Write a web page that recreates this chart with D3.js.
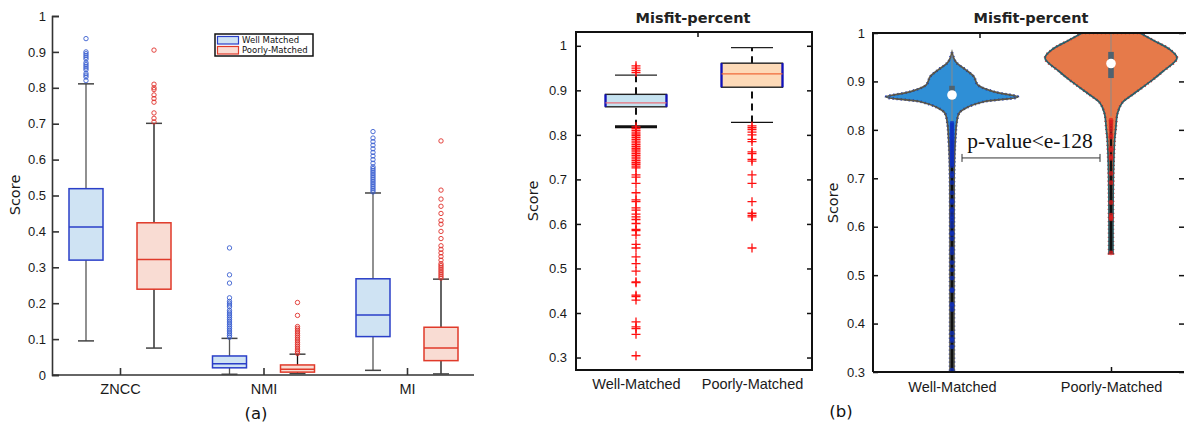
<!doctype html>
<html lang="en">
  <head>
    <meta charset="UTF-8" />
    <title>Score distributions</title>
    <script src="https://d3js.org/d3.v7.min.js"></script>
    <style>
      body { margin: 0; background: #fff; }
      svg { display: block; font-family: 'DejaVu Sans', sans-serif; }
      .tick-label { font-size: 13px; fill: #1a1a1a; }
      .cat-label { font-size: 14.5px; fill: #1a1a1a; }
      .title { font-size: 14.5px; font-weight: bold; fill: #222; }
      .ylab { font-size: 14.5px; fill: #1a1a1a; }
      .legend-item { font-size: 8.5px; fill: #111; }
    </style>
  </head>
  <body>
    <div id="chart"></div>
    <script>
      // ---------- panel (a) data ----------
      const aCategories = ['ZNCC', 'NMI', 'MI']
      const aGroups = ['Well Matched', 'Poorly-Matched']
      const aTicks = [0, 0.1, 0.2, 0.3, 0.4, 0.5, 0.6, 0.7, 0.8, 0.9, 1]
      const aTickLabels = ['0', '0.1', '0.2', '0.3', '0.4', '0.5', '0.6', '0.7', '0.8', '0.9', '1']
      // [lower whisker, q1, median, q3, upper whisker]
      const aWellStats = [
        [0.095, 0.32, 0.412, 0.519, 0.811],
        [0.002, 0.02, 0.031, 0.053, 0.102],
        [0.013, 0.107, 0.167, 0.268, 0.507],
      ]
      const aPoorStats = [
        [0.075, 0.239, 0.322, 0.424, 0.701],
        [0.004, 0.008, 0.016, 0.028, 0.058],
        [0.003, 0.04, 0.075, 0.133, 0.267],
      ]
      const aWellOutliers = [
        [0.82, 0.83, 0.835, 0.84, 0.85, 0.855, 0.86, 0.865, 0.87, 0.88, 0.885, 0.89, 0.895, 0.9, 0.937],
        [0.105, 0.11, 0.115, 0.12, 0.125, 0.13, 0.135, 0.14, 0.145, 0.15, 0.155, 0.16, 0.165, 0.17, 0.175, 0.18, 0.19, 0.195, 0.2, 0.205, 0.215, 0.256, 0.279, 0.354],
        [0.51, 0.515, 0.52, 0.525, 0.53, 0.535, 0.54, 0.545, 0.55, 0.555, 0.56, 0.565, 0.57, 0.575, 0.58, 0.59, 0.6, 0.61, 0.62, 0.63, 0.64, 0.65, 0.66, 0.678],
      ]
      const aPoorOutliers = [
        [0.705, 0.715, 0.73, 0.76, 0.77, 0.78, 0.795, 0.8, 0.81, 0.905],
        [0.06, 0.065, 0.07, 0.075, 0.08, 0.085, 0.09, 0.095, 0.1, 0.105, 0.11, 0.115, 0.12, 0.125, 0.13, 0.135, 0.166, 0.202],
        [0.27, 0.275, 0.28, 0.285, 0.29, 0.295, 0.3, 0.305, 0.31, 0.32, 0.33, 0.34, 0.35, 0.36, 0.38, 0.4, 0.42, 0.43, 0.45, 0.47, 0.49, 0.515, 0.652],
      ]

      // ---------- panel (b) data ----------
      const bCategories = ['Well-Matched', 'Poorly-Matched']
      const bTicks = [0.3, 0.4, 0.5, 0.6, 0.7, 0.8, 0.9, 1]
      const bTickLabels = ['0.3', '0.4', '0.5', '0.6', '0.7', '0.8', '0.9', '1']
      const bStats = [
        [0.818, 0.863, 0.872, 0.891, 0.934],
        [0.828, 0.907, 0.937, 0.961, 0.996],
      ]
      const bOutliers = [
        [0.955, 0.95, 0.945, 0.94, 0.818, 0.814, 0.81, 0.806, 0.802, 0.798, 0.794, 0.79, 0.786, 0.782, 0.778, 0.774, 0.77, 0.766, 0.762, 0.758, 0.754, 0.75, 0.746, 0.742, 0.738, 0.734, 0.73, 0.726, 0.71, 0.705, 0.691, 0.67, 0.654, 0.65, 0.636, 0.631, 0.622, 0.616, 0.61, 0.601, 0.588, 0.585, 0.575, 0.554, 0.546, 0.526, 0.511, 0.494, 0.47, 0.468, 0.44, 0.437, 0.429, 0.38, 0.369, 0.365, 0.352, 0.304],
        [0.82, 0.816, 0.812, 0.806, 0.8, 0.79, 0.785, 0.762, 0.758, 0.745, 0.741, 0.71, 0.691, 0.65, 0.624, 0.619, 0.616, 0.546],
      ]
      const vTicks = [0.3, 0.4, 0.5, 0.6, 0.7, 0.8, 0.9, 1]
      const vTickLabels = ['0.3', '0.4', '0.5', '0.6', '0.7', '0.8', '0.9', '1']
      // [score, relative density]
      const vWellDensity = [
        [0.96, 0.0], [0.94, 0.06], [0.924, 0.21], [0.91, 0.33], [0.893, 0.39],
        [0.879, 0.63], [0.868, 1.0], [0.858, 0.48], [0.847, 0.24], [0.835, 0.11],
        [0.814, 0.07], [0.79, 0.055], [0.75, 0.04], [0.7, 0.032], [0.5, 0.03], [0.3, 0.03],
      ]
      const vPoorDensity = [
        [1.0, 0.44], [0.985, 0.64], [0.965, 0.9], [0.948, 1.0], [0.92, 0.78], [0.9, 0.6],
        [0.872, 0.32], [0.856, 0.17], [0.835, 0.1], [0.8, 0.07], [0.78, 0.055],
        [0.75, 0.045], [0.7, 0.035], [0.6, 0.03], [0.545, 0.03],
      ]
      const vTail = [[0.3, 0.78], [0.545, 0.82]]
      const pValueText = 'p-value<e-128'

      const W = 1186, H = 426
      const svg = d3.select('#chart').append('svg').attr('width', W).attr('height', H)

      // ================= panel (a) =================
      const ya = d3.scaleLinear().domain([0, 1]).range([375, 16])
      const xa = d3.scalePoint().domain(aCategories).range([120, 407])
      const off = d3.scalePoint().domain(aGroups).range([-34, 34])
      const boxW = 34
      const ga = svg.append('g')

      ga.append('g')
        .attr('transform', 'translate(52,0)')
        .call(d3.axisLeft(ya).tickValues(aTicks).tickFormat((d, i) => aTickLabels[i]).tickSize(-7).tickPadding(6))
        .call((g) => g.selectAll('.tick text').attr('class', 'tick-label').attr('font-size', null).attr('font-family', null))
        .call((g) => g.selectAll('path, line').attr('stroke', '#333').attr('stroke-width', 1.6))
      ga.append('g')
        .attr('transform', 'translate(0,375)')
        .call(d3.axisBottom(xa).tickSize(-7).tickPadding(9).tickSizeOuter(0))
        .call((g) => g.select('.domain').attr('d', 'M52,0H474'))
        .call((g) => g.selectAll('.tick text').attr('class', 'cat-label').attr('font-size', null).attr('font-family', null))
        .call((g) => g.selectAll('path, line').attr('stroke', '#333').attr('stroke-width', 1.6))

      const aStyles = [
        { fill: '#cfe3f3', stroke: '#2a3fc8', whisker: '#555', out: '#3a5fd0' },
        { fill: '#f9dcd3', stroke: '#e03a2a', whisker: '#111', out: '#e0302a' },
      ]
      function drawBoxA(cat, gi, s, outs) {
        const st = aStyles[gi]
        const cx = xa(cat) + off(aGroups[gi])
        const g = ga.append('g')
        g.append('line').attr('x1', cx).attr('x2', cx).attr('y1', ya(s[0])).attr('y2', ya(s[4]))
          .attr('stroke', st.whisker).attr('stroke-width', 1.3)
        ;[s[0], s[4]].forEach((v) => {
          g.append('line').attr('x1', cx - 8).attr('x2', cx + 8).attr('y1', ya(v)).attr('y2', ya(v))
            .attr('stroke', '#444').attr('stroke-width', 1.5)
        })
        g.append('rect').attr('x', cx - boxW / 2).attr('width', boxW)
          .attr('y', ya(s[3])).attr('height', ya(s[1]) - ya(s[3]))
          .attr('fill', st.fill).attr('stroke', st.stroke).attr('stroke-width', 1.5)
        g.append('line').attr('x1', cx - boxW / 2).attr('x2', cx + boxW / 2)
          .attr('y1', ya(s[2])).attr('y2', ya(s[2])).attr('stroke', st.stroke).attr('stroke-width', 1.5)
        g.selectAll('circle').data(outs).join('circle')
          .attr('cx', cx).attr('cy', (d) => ya(d)).attr('r', 2.2)
          .attr('fill', 'none').attr('stroke', st.out).attr('stroke-width', 0.9)
      }
      aCategories.forEach((c, i) => {
        drawBoxA(c, 0, aWellStats[i], aWellOutliers[i])
        drawBoxA(c, 1, aPoorStats[i], aPoorOutliers[i])
      })

      ga.append('text').attr('class', 'ylab').attr('transform', 'translate(20,195) rotate(-90)')
        .attr('text-anchor', 'middle').text('Score')
      ga.append('text').attr('x', 256).attr('y', 419).attr('text-anchor', 'middle')
        .attr('font-size', 16.5).attr('fill', '#111').text('(a)')

      // legend
      const lg = ga.append('g').attr('transform', 'translate(215,34)')
      lg.append('rect').attr('width', 98).attr('height', 22).attr('fill', '#fff')
        .attr('stroke', '#111').attr('stroke-width', 1.5)
      aGroups.forEach((name, i) => {
        lg.append('rect').attr('x', 2.5).attr('y', 2.5 + i * 10).attr('width', 21).attr('height', 7.5)
          .attr('fill', aStyles[i].fill).attr('stroke', aStyles[i].stroke).attr('stroke-width', 1.2)
        lg.append('text').attr('class', 'legend-item').attr('x', 27).attr('y', 6.5 + i * 10)
          .attr('dy', '0.35em').text(name)
      })

      // ================= panel (b) boxplot =================
      const yb = d3.scaleLinear().domain([0.272, 1.031]).range([370, 32])
      const xb = d3.scalePoint().domain(bCategories).range([636, 752])
      const gb = svg.append('g')
      const bL = 576, bR = 812, bT = 32, bB = 370

      gb.append('g').attr('transform', `translate(${bL},0)`)
        .call(d3.axisLeft(yb).tickValues(bTicks).tickFormat((d, i) => bTickLabels[i]).tickSize(-5).tickPadding(9).tickSizeOuter(0))
        .call((g) => g.select('.domain').remove())
        .call((g) => g.selectAll('.tick text').attr('class', 'tick-label').attr('font-size', null).attr('font-family', null))
        .call((g) => g.selectAll('line').attr('stroke', '#111').attr('stroke-width', 1.5))
      gb.append('g').attr('transform', `translate(${bR},0)`)
        .call(d3.axisRight(yb).tickValues(bTicks).tickFormat('').tickSize(-5).tickSizeOuter(0))
        .call((g) => g.select('.domain').remove())
        .call((g) => g.selectAll('line').attr('stroke', '#111').attr('stroke-width', 1.5))
      gb.append('g').attr('transform', `translate(0,${bB})`)
        .call(d3.axisBottom(xb).tickSize(0).tickPadding(9))
        .call((g) => g.select('.domain').remove())
        .call((g) => g.selectAll('.tick text').attr('class', 'cat-label').attr('font-size', 16.5).attr('font-family', null))
      gb.append('line').attr('x1', (bL + bR) / 2 + 4).attr('x2', (bL + bR) / 2 + 4)
        .attr('y1', bT).attr('y2', bT + 5).attr('stroke', '#111').attr('stroke-width', 1.5)
      gb.append('rect').attr('x', bL).attr('y', bT).attr('width', bR - bL).attr('height', bB - bT)
        .attr('fill', 'none').attr('stroke', '#111').attr('stroke-width', 2)

      const bStyles = [
        { fill: '#c6e3f1', med: '#e8707a', capLo: 3 },
        { fill: '#fddab8', med: '#f06a3a', capLo: 1.2 },
      ]
      const bBoxW = 61
      bCategories.forEach((c, i) => {
        const s = bStats[i], st = bStyles[i], cx = xb(c)
        const g = gb.append('g')
        g.append('line').attr('x1', cx).attr('x2', cx).attr('y1', yb(s[0])).attr('y2', yb(s[1]))
          .attr('stroke', '#111').attr('stroke-width', 2).attr('stroke-dasharray', '7,5')
        g.append('line').attr('x1', cx).attr('x2', cx).attr('y1', yb(s[3])).attr('y2', yb(s[4]))
          .attr('stroke', '#111').attr('stroke-width', 2).attr('stroke-dasharray', '7,5')
        g.append('line').attr('x1', cx - 21).attr('x2', cx + 21).attr('y1', yb(s[4])).attr('y2', yb(s[4]))
          .attr('stroke', '#222').attr('stroke-width', 1.3)
        g.append('line').attr('x1', cx - 21).attr('x2', cx + 21).attr('y1', yb(s[0])).attr('y2', yb(s[0]))
          .attr('stroke', '#111').attr('stroke-width', st.capLo)
        g.append('rect').attr('x', cx - bBoxW / 2).attr('width', bBoxW)
          .attr('y', yb(s[3])).attr('height', yb(s[1]) - yb(s[3]))
          .attr('fill', st.fill).attr('stroke', '#222').attr('stroke-width', 1.4)
        ;[-1, 1].forEach((k) => {
          g.append('line').attr('x1', cx + k * bBoxW / 2).attr('x2', cx + k * bBoxW / 2)
            .attr('y1', yb(s[3])).attr('y2', yb(s[1])).attr('stroke', '#1010c0').attr('stroke-width', 2.2)
        })
        g.append('line').attr('x1', cx - bBoxW / 2).attr('x2', cx + bBoxW / 2)
          .attr('y1', yb(s[2])).attr('y2', yb(s[2])).attr('stroke', st.med).attr('stroke-width', 1.3)
        g.selectAll('path.out').data(bOutliers[i]).join('path').attr('class', 'out')
          .attr('d', (d) => `M${cx - 4.5},${yb(d)}H${cx + 4.5}M${cx},${yb(d) - 4.5}V${yb(d) + 4.5}`)
          .attr('stroke', '#ff1010').attr('stroke-width', 1.3)
      })
      gb.append('text').attr('class', 'title').attr('x', 693).attr('y', 23).attr('text-anchor', 'middle').text('Misfit-percent')
      gb.append('text').attr('class', 'ylab').attr('transform', 'translate(538,201) rotate(-90)')
        .attr('text-anchor', 'middle').attr('font-size', 15).text('Score')

      // ================= panel (b) violin =================
      const yv = d3.scaleLinear().domain([0.3, 1.0]).range([372, 33])
      const xv = d3.scalePoint().domain(bCategories).range([952, 1111])
      const wv = d3.scaleLinear().domain([0, 1]).range([0, 66])
      const gv = svg.append('g')
      const vL = 873, vR = 1184, vT = 33, vB = 372

      svg.append('clipPath').attr('id', 'vclip').append('rect')
        .attr('x', vL).attr('y', vT).attr('width', vR - vL).attr('height', vB - vT)

      gv.append('g').attr('transform', `translate(${vL},0)`)
        .call(d3.axisLeft(yv).tickValues(vTicks).tickFormat((d, i) => vTickLabels[i]).tickSize(-5).tickPadding(8).tickSizeOuter(0))
        .call((g) => g.select('.domain').remove())
        .call((g) => g.selectAll('.tick text').attr('class', 'tick-label').attr('font-size', null).attr('font-family', null))
        .call((g) => g.selectAll('line').attr('stroke', '#111').attr('stroke-width', 1.5))
      gv.append('g').attr('transform', `translate(${vR},0)`)
        .call(d3.axisRight(yv).tickValues(vTicks).tickFormat('').tickSize(-5).tickSizeOuter(0))
        .call((g) => g.select('.domain').remove())
        .call((g) => g.selectAll('line').attr('stroke', '#111').attr('stroke-width', 1.5))
      gv.append('g').attr('transform', `translate(0,${vB})`)
        .call(d3.axisBottom(xv).tickSize(-5).tickPadding(10).tickSizeOuter(0))
        .call((g) => g.select('.domain').remove())
        .call((g) => g.selectAll('.tick text').attr('class', 'cat-label').attr('font-size', 16.5).attr('font-family', null))
        .call((g) => g.selectAll('line').attr('stroke', '#111').attr('stroke-width', 1.5))
      gv.append('line').attr('x1', 980).attr('x2', 980).attr('y1', vT).attr('y2', vT + 5)
        .attr('stroke', '#111').attr('stroke-width', 1.5)

      const vStyles = [
        { fill: '#2f8fd6', edge: '#5a5548', dots: '#1030c0' },
        { fill: '#e67a4a', edge: '#2a5f6a', dots: '#e02020' },
      ]
      const dens = [vWellDensity, vPoorDensity]
      const plot = gv.append('g').attr('clip-path', 'url(#vclip)')
      bCategories.forEach((c, i) => {
        const cx = xv(c), st = vStyles[i], s = bStats[i]
        const area = d3.area().curve(d3.curveCatmullRom)
          .y((d) => yv(d[0])).x0((d) => cx - wv(d[1])).x1((d) => cx + wv(d[1]))
        plot.append('path').attr('d', area(dens[i])).attr('fill', st.fill)
          .attr('stroke', st.dots).attr('stroke-width', 2.6).attr('stroke-dasharray', '1.2,2.8')
        plot.append('path').attr('d', area(dens[i])).attr('fill', 'none')
          .attr('stroke', st.edge).attr('stroke-width', 1.7)
        plot.append('line').attr('x1', cx).attr('x2', cx).attr('y1', yv(vTail[i][0])).attr('y2', yv(vTail[i][1]))
          .attr('stroke', '#111').attr('stroke-width', 2.6)
        plot.selectAll('circle.pt' + i).data(bOutliers[i].filter((d) => d < s[0]))
          .join('circle').attr('class', 'pt' + i)
          .attr('cx', cx).attr('cy', (d) => yv(d)).attr('r', 2.4).attr('fill', st.dots).attr('opacity', 0.75)
        plot.append('line').attr('x1', cx).attr('x2', cx).attr('y1', yv(s[0])).attr('y2', yv(Math.min(s[4] + 0.02, 1)))
          .attr('stroke', '#8a8a8a').attr('stroke-width', 1)
        plot.append('rect').attr('x', cx - 2.8).attr('width', 5.6)
          .attr('y', yv(s[3])).attr('height', yv(s[1]) - yv(s[3])).attr('fill', '#4f6270')
        plot.append('circle').attr('cx', cx).attr('cy', yv(s[2])).attr('r', 4.8).attr('fill', '#fff')
      })

      gv.append('path').attr('d', `M${vL},${vB}H${vR}M${vL},${vB}V${vT}H${vR + 4}`)
        .attr('fill', 'none').attr('stroke', '#111').attr('stroke-width', 2)

      // p-value bracket
      const px0 = xv(bCategories[0]) + 10, px1 = xv(bCategories[1]) - 11, py = yv(0.742)
      gv.append('path').attr('d', `M${px0},${py}H${px1}M${px0},${py - 4}V${py + 4}M${px1},${py - 4}V${py + 4}`)
        .attr('stroke', '#333').attr('stroke-width', 1).attr('fill', 'none')
      gv.append('text').attr('x', (px0 + px1) / 2 - 1).attr('y', py - 10).attr('text-anchor', 'middle')
        .attr('font-family', "'Liberation Serif', serif").attr('font-size', 21.5).attr('fill', '#111').text(pValueText)

      gv.append('text').attr('class', 'title').attr('x', 1031).attr('y', 23).attr('text-anchor', 'middle').text('Misfit-percent')
      gv.append('text').attr('class', 'ylab').attr('transform', 'translate(838,203) rotate(-90)')
        .attr('text-anchor', 'middle').attr('font-size', 15).text('Score')
      svg.append('text').attr('x', 841).attr('y', 417).attr('text-anchor', 'middle')
        .attr('font-size', 16.5).attr('fill', '#111').text('(b)')
    </script>
  </body>
</html>
